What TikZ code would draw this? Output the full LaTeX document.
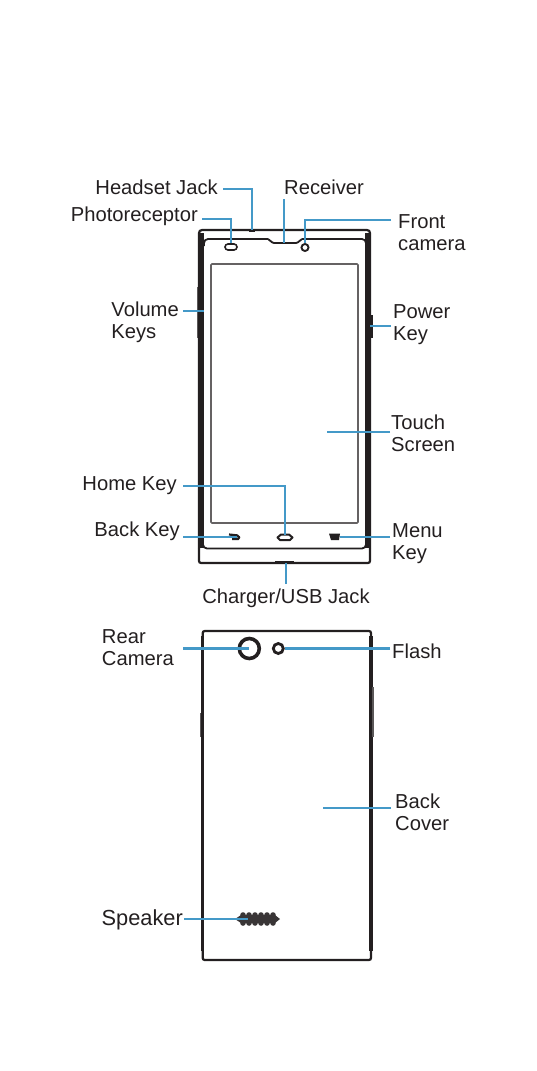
\documentclass[tikz,border=0pt]{standalone}
\usepackage{fontspec}
\usepackage{xcolor}
\setmainfont{Liberation Sans}
\definecolor{leadblue}{HTML}{4499C8}
\definecolor{inkblack}{HTML}{231F20}
\tikzset{
  lbl/.style={font=\fontsize{20.2}{21.8}\selectfont, text=inkblack, align=left, inner ysep=0pt, text height=14.5pt, text depth=4.5pt},
  lead/.style={draw=leadblue, line width=2.6pt},
  body/.style={draw=inkblack, line width=2.2pt},
  band/.style={draw=inkblack, line width=6.4pt},
  rearband/.style={draw=inkblack, line width=3.4pt},
  bump/.style={draw=inkblack!75, line width=1.8pt},
  lens/.style={draw=inkblack, circle, inner sep=0pt},
}

\begin{document}
\begin{tikzpicture}[x=1pt, y=-1pt]
  \useasboundingbox (0,0) rectangle (537,1071);

  % front of the phone
  \draw[body, rounded corners=3pt] (199,548) -- (199,230) -- (370,230) -- (370,548);
  \draw[body, rounded corners=2pt] (199,548) -- (199,563) -- (370,563) -- (370,548);
  \draw[band] (201,233) -- (201,548);
  \draw[band] (368,233) -- (368,548);
  \draw[bump] (197.5,287) -- (197.5,338);
  \draw[draw=inkblack, line width=2.4pt] (372,315) -- (372,338);
  \draw[body, line width=1.8pt, rounded corners=4pt] (204,246) -- (204,239) -- (268,239);
  \draw[body, line width=1.8pt, rounded corners=1pt] (268,239) -- (273,243) -- (297,243) -- (302,239);
  \draw[body, line width=1.8pt, rounded corners=4pt] (302,239) -- (366,239) -- (366,246);
  \draw[body, line width=1.8pt, rounded corners=4pt] (203,540) -- (203,548.5) -- (366,548.5) -- (366,540);
  \draw[draw=inkblack!70, line width=1.6pt, rounded corners=1pt] (211,264) rectangle (358,523);
  \draw[draw=inkblack, line width=2pt] (275,561.5) -- (294,561.5);
  \draw[draw=inkblack, line width=2.4pt] (249,230.5) -- (255,230.5);

  \node[draw=inkblack, line width=1.6pt, minimum width=12pt, minimum height=6pt, inner sep=0pt, rounded corners=3pt] (photo) at (231,247) {};
  \node[lens, line width=1.9pt, minimum size=7pt] (frontcam) at (305,247.5) {};
  \coordinate (earpiece) at (284,243);
  \coordinate (jack) at (252,230);
  \coordinate (volkey) at (204,311);
  \coordinate (powerkey) at (370,326);
  \coordinate (screen) at (327,432);
  \coordinate (usb) at (286,563);

  % soft keys
  \draw[draw=inkblack, line width=2pt, line join=round] (277.5,537.5) -- (281,534.5) -- (289,534.5) -- (292.5,537.5) -- (290,540) -- (280,540) -- cycle;
  \coordinate (homekey) at (285,535);
  \draw[draw=inkblack, line width=2.2pt, rounded corners=1.5pt] (229,534.5) -- (238.5,535.5) -- (239.5,539) -- (232,539);
  \coordinate (backkey) at (237,537);
  \fill[inkblack] (329,533.5) -- (340,533.5) -- (339,540) -- (331,540) -- cycle;
  \coordinate (menukey) at (340,537);

  % rear of the phone
  \draw[body, rounded corners=2pt] (202.7,631) rectangle (371,960);
  \draw[rearband] (202.7,636) -- (202.7,951);
  \draw[rearband] (371,636) -- (371,951);
  \draw[bump] (200.5,713) -- (200.5,737);
  \draw[bump] (373,687) -- (373,737);
  \node[lens, line width=3.6pt, minimum size=20pt] (rearcam) at (249.3,648.5) {};
  \node[lens, line width=2.8pt, minimum size=10pt] (flash) at (278.3,648.5) {};
  \coordinate (cover) at (323,808);

  % speaker grille
  \fill[inkblack!90] (235,919) -- (241,915) -- (275,915) -- (280,919) -- (275,923) -- (241,923) -- cycle;
  \foreach \col in {241,247,253,259,265,271} {
    \foreach \row in {915,919,923} {
      \fill[inkblack!90] (\col+2,\row) circle (2.8pt);
    }
  }
  \coordinate (grille) at (248,919);

  % labels
  \node[lbl, anchor=east, inner xsep=5pt] (headlbl) at (223,189) {Headset Jack};
  \node[lbl, anchor=east, inner xsep=4pt] (photolbl) at (202,216) {Photoreceptor};
  \node[lbl, anchor=south west, inner xsep=0pt, inner ysep=-0.5pt] (reclbl) at (284,199) {Receiver};
  \node[lbl, anchor=west, inner xsep=7pt] (frontlbl) at (391,245.2) {Front\\camera};
  \node[lbl, anchor=east, inner xsep=4pt] (vollbl) at (183,333.3) {Volume\\Keys};
  \node[lbl, anchor=west, inner xsep=2pt] (powerlbl) at (391,335.5) {Power\\Key};
  \node[lbl, anchor=west, inner xsep=1pt] (touchlbl) at (390,446) {Touch\\Screen};
  \node[lbl, anchor=east, inner xsep=6pt] (homelbl) at (183,485) {Home Key};
  \node[lbl, anchor=east, inner xsep=3pt] (backlbl) at (183,531) {Back Key};
  \node[lbl, anchor=west, inner xsep=2pt] (menulbl) at (390,554.5) {Menu\\Key};
  \node[lbl, anchor=north, inner ysep=4.5pt] (usblbl) at (286,584) {Charger/USB Jack};
  \node[lbl, anchor=east, inner xsep=9pt] (rearlbl) at (183,660.5) {Rear\\Camera};
  \node[lbl, anchor=west, inner xsep=2pt] (flashlbl) at (390,653) {Flash};
  \node[lbl, anchor=west, inner xsep=4pt] (coverlbl) at (391,825.5) {Back\\Cover};
  \node[lbl, font=\fontsize{21.8}{24}\selectfont, anchor=east, inner xsep=1pt] (spklbl) at (184,920) {Speaker};

  % leader lines
  \draw[lead] (headlbl.east) -| (jack);
  \draw[lead] (photolbl.east |- 0,219) -| (photo.north);
  \draw[lead] (reclbl.south west) -- (earpiece);
  \draw[lead] (frontlbl.west |- 0,220) -| (frontcam.north);
  \draw[lead] (vollbl.east |- volkey) -- (volkey);
  \draw[lead] (powerlbl.west |- powerkey) -- (powerkey);
  \draw[lead, line width=1.4pt] (touchlbl.west |- screen) -- (screen);
  \draw[lead] (homelbl.east |- 0,486) -| (homekey);
  \draw[lead] (backlbl.east |- backkey) -- (backkey);
  \draw[lead] (menulbl.west |- menukey) -- (menukey);
  \draw[lead] (usblbl.north) -- (usb);
  \draw[lead] (rearlbl.east |- rearcam) -- (rearcam.center);
  \draw[lead] (flashlbl.west |- flash) -- (flash.east);
  \draw[lead] (coverlbl.west |- cover) -- (cover);
  \draw[lead] (spklbl.east |- grille) -- (grille);
\end{tikzpicture}
\end{document}
